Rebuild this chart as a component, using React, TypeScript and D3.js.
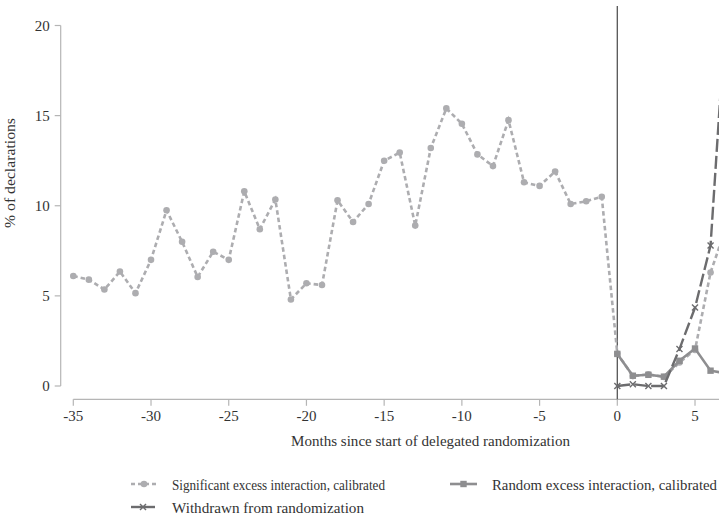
import React from "react";
import * as d3 from "d3";

const months = d3.range(-35, 8);
const significant = [
  6.1, 5.9, 5.35, 6.35, 5.15, 7.0, 9.75, 8.0, 6.05, 7.45, 7.0, 10.8, 8.7, 10.35,
  4.8, 5.7, 5.6, 10.3, 9.1, 10.1, 12.5, 12.95, 8.9, 13.2, 15.4, 14.55, 12.85,
  12.2, 14.75, 11.3, 11.1, 11.9, 10.1, 10.25, 10.5, 1.8, 0.55, 0.65, 0.5, 1.3,
  2.0, 6.3, 8.8,
];
const randomMonths = [0, 1, 2, 3, 4, 5, 6, 7];
const randomExcess = [1.78, 0.57, 0.62, 0.52, 1.4, 2.08, 0.85, 0.7];
const withdrawn = [0, 0.1, 0, 0, 2.05, 4.35, 7.8, 21];
const xTicks = [-35, -30, -25, -20, -15, -10, -5, 0, 5];
const yTicks = [0, 5, 10, 15, 20];

const W = 719;
const H = 518;
const FONT = "'Liberation Serif', 'DejaVu Serif', serif";
const C_SIG = "#adadb0";
const C_RAND = "#8e8e90";
const C_WD = "#6c6c6e";
const C_AXIS = "#b5b5b5";
const C_TEXT = "#333";

export default function App() {
  const x = d3.scaleLinear().domain([-35, 0]).range([73.3, 617.3]);
  const y = d3.scaleLinear().domain([0, 20]).range([386, 25.5]);
  const axisY = 399.3;
  const yAxisX = 60.7;

  const sigPts = months.map((m, i) => [m, significant[i]] as [number, number]);
  const randPts = randomMonths.map((m, i) => [m, randomExcess[i]] as [number, number]);
  const wdPts = randomMonths.map((m, i) => [m, withdrawn[i]] as [number, number]);

  const line = d3
    .line<[number, number]>()
    .x((d) => x(d[0]))
    .y((d) => y(d[1]));

  const cross = (cx: number, cy: number, s: number, color: string, key: string) => (
    <g key={key} stroke={color} strokeWidth={1.4}>
      <line x1={cx - s} y1={cy - s} x2={cx + s} y2={cy + s} />
      <line x1={cx - s} y1={cy + s} x2={cx + s} y2={cy - s} />
    </g>
  );

  return (
    <svg
      width={W}
      height={H}
      style={{ position: "absolute", left: 0, top: 0, background: "#fff", fontFamily: FONT }}
    >
      {/* y axis */}
      <line x1={yAxisX} x2={yAxisX} y1={y(20)} y2={y(0)} stroke={C_AXIS} strokeWidth={1.2} />
      {yTicks.map((t) => (
        <g key={"yt" + t}>
          <line x1={yAxisX - 6} x2={yAxisX} y1={y(t)} y2={y(t)} stroke={C_AXIS} strokeWidth={1.2} />
          <text
            x={yAxisX - 11}
            y={y(t)}
            dy="0.35em"
            textAnchor="end"
            fontSize={15}
            fill={C_TEXT}
          >
            {t}
          </text>
        </g>
      ))}
      <text
        transform={`translate(15,173) rotate(-90)`}
        textAnchor="middle"
        fontSize={15}
        fill={C_TEXT}
        textLength={110}
        lengthAdjust="spacingAndGlyphs"
      >
        % of declarations
      </text>

      {/* x axis */}
      <line x1={x(-35)} x2={W} y1={axisY} y2={axisY} stroke={C_AXIS} strokeWidth={1.2} />
      {xTicks.map((t) => (
        <g key={"xt" + t}>
          <line x1={x(t)} x2={x(t)} y1={axisY} y2={axisY + 6.5} stroke={C_AXIS} strokeWidth={1.2} />
          <text x={x(t)} y={axisY + 22} textAnchor="middle" fontSize={15} fill={C_TEXT}>
            {t}
          </text>
        </g>
      ))}
      <text
        x={430.5}
        y={446}
        textAnchor="middle"
        fontSize={15}
        fill={C_TEXT}
        textLength={279}
        lengthAdjust="spacingAndGlyphs"
      >
        Months since start of delegated randomization
      </text>

      {/* vertical reference line */}
      <line x1={x(0)} x2={x(0)} y1={6} y2={axisY} stroke="#555" strokeWidth={1.3} />

      {/* significant */}
      <path
        d={line(sigPts) || ""}
        fill="none"
        stroke={C_SIG}
        strokeWidth={2.6}
        strokeDasharray="4.5,3"
      />
      {sigPts.map((d, i) => (
        <circle key={"s" + i} cx={x(d[0])} cy={y(d[1])} r={3.3} fill={C_SIG} />
      ))}
      {/* random */}
      <path d={line(randPts) || ""} fill="none" stroke={C_RAND} strokeWidth={2.6} />
      {randPts.map((d, i) => (
        <rect
          key={"r" + i}
          x={x(d[0]) - 3.2}
          y={y(d[1]) - 3.2}
          width={6.4}
          height={6.4}
          fill={C_RAND}
        />
      ))}
      {/* withdrawn */}
      <path
        d={line(wdPts) || ""}
        fill="none"
        stroke={C_WD}
        strokeWidth={2.4}
        strokeDasharray="13,4"
      />
      {wdPts.map((d, i) => cross(x(d[0]), y(d[1]), 3, C_WD, "w" + i))}

      {/* legend */}
      <g>
        <line x1={131} x2={157} y1={484} y2={484} stroke={C_SIG} strokeWidth={2.6} strokeDasharray="4,3" />
        <circle cx={144} cy={484} r={3.3} fill={C_SIG} />
        <text x={172} y={490} fontSize={14} fill={C_TEXT} textLength={213} lengthAdjust="spacingAndGlyphs">
          Significant excess interaction, calibrated
        </text>

        <line x1={450} x2={477} y1={484} y2={484} stroke={C_RAND} strokeWidth={2.6} />
        <rect x={460.3} y={480.8} width={6.4} height={6.4} fill={C_RAND} />
        <text x={492} y={490} fontSize={14} fill={C_TEXT} textLength={225} lengthAdjust="spacingAndGlyphs">
          Random excess interaction, calibrated
        </text>

        <line x1={131} x2={155} y1={507} y2={507} stroke={C_WD} strokeWidth={2.4} />
        {cross(143, 507, 3, C_WD, "lw")}
        <text x={172} y={513} fontSize={14} fill={C_TEXT} textLength={192} lengthAdjust="spacingAndGlyphs">
          Withdrawn from randomization
        </text>
      </g>
    </svg>
  );
}
